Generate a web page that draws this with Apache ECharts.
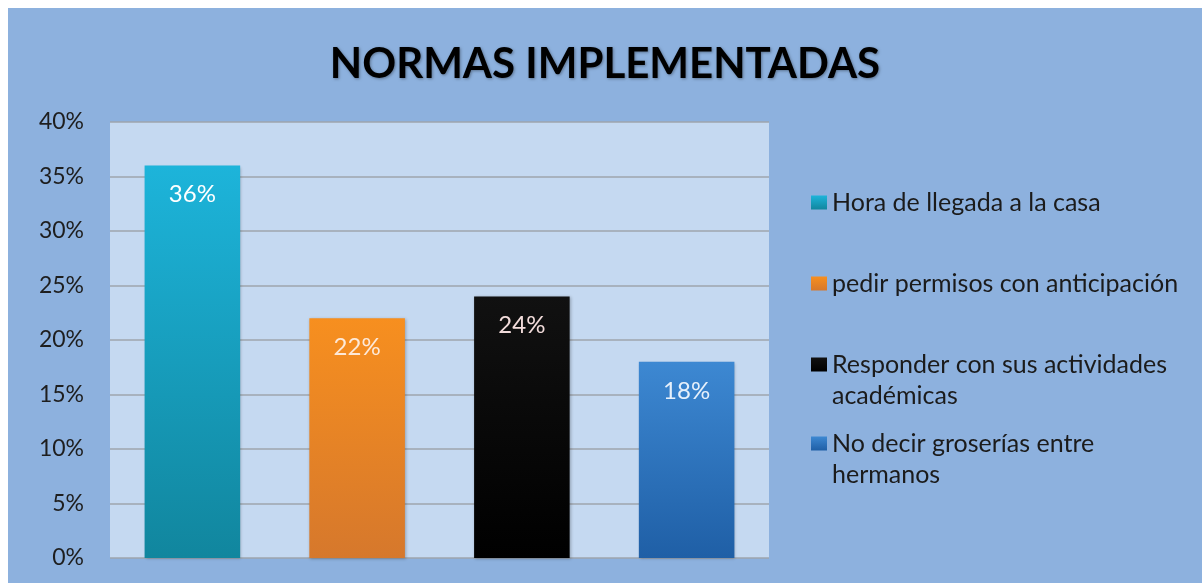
<!DOCTYPE html>
<html>
<head>
<meta charset="utf-8">
<title>NORMAS IMPLEMENTADAS</title>
<script src="https://cdn.jsdelivr.net/npm/echarts@6/dist/echarts.min.js"></script>
<style>
    html, body { margin: 0; padding: 0; background: #ffffff; }
    #container { position: absolute; left: 8px; top: 8px; width: 1194px; height: 575px; }
</style>
</head>
<body>
<div id="container"></div>
<script>
var chartTitle = 'NORMAS IMPLEMENTADAS';
var categories = [
    'Hora de llegada a la casa',
    'pedir permisos con anticipación',
    'Responder con sus actividades académicas',
    'No decir groserías entre hermanos'
];
// texto de la leyenda tal como aparece partido en el original
var legendLines = [
    ['Hora de llegada a la casa'],
    ['pedir permisos con anticipación'],
    ['Responder con sus actividades', 'académicas'],
    ['No decir groserías entre', 'hermanos']
];
var values = [36, 22, 24, 18];
var yTicks = [0, 5, 10, 15, 20, 25, 30, 35, 40];

var FONT = 'Lato, "Open Sans", sans-serif';

var barColors = [
    ['#1db4da', '#11869e'],
    ['#f78f1f', '#d6782c'],
    ['#111111', '#000000'],
    ['#3d88d2', '#1f5fa6']
];
var labelColors = ['#ffffff', '#fde9d9', '#f2dcdb', '#e6f0fb'];
var legendTops = [174, 255, 305, 384];
var LINE_H = 31;

var charts;

function getECharts() {
    if (charts != undefined) {
        return charts;
    }
    var container = document.getElementById('container');
    charts = echarts.init(container, null, { renderer: 'canvas' });
    return charts;
}

function gradient(c) {
    return new echarts.graphic.LinearGradient(0, 0, 0, 1, [
        { offset: 0, color: c[0] },
        { offset: 1, color: c[1] }
    ]);
}

/*
 * una serie por categoria, apiladas para que cada barra quede centrada
 */
function buildSeries() {
    var series = [];
    for (var i = 0; i < categories.length; i++) {
        var data = [];
        for (var j = 0; j < categories.length; j++) {
            data.push(i == j ? values[i] : '-');
        }
        series.push({
            name: categories[i],
            type: 'bar',
            stack: 'normas',
            barWidth: '58%',
            data: data,
            itemStyle: {
                color: gradient(barColors[i]),
                shadowColor: 'rgba(0,0,0,0.25)',
                shadowBlur: 3,
                shadowOffsetX: 1,
                shadowOffsetY: 1
            },
            label: {
                show: true,
                position: 'insideTop',
                distance: 17,
                formatter: '{c}%',
                color: labelColors[i],
                fontFamily: FONT,
                fontSize: 24
            }
        });
    }
    return series;
}

/*
 * texto de la leyenda: en las de dos lineas se agrega una linea vacia arriba
 * para que el cuadro quede a la altura de la primera linea
 */
function legendText(idx) {
    var lines = legendLines[idx];
    if (lines.length > 1) {
        return ' \n' + lines.join('\n');
    }
    return lines[0];
}

function buildLegends() {
    var legends = [];
    for (var i = 0; i < categories.length; i++) {
        legends.push({
            data: [categories[i]],
            left: 798,
            top: legendTops[i],
            orient: 'vertical',
            icon: 'rect',
            itemWidth: 16,
            itemHeight: 14,
            itemGap: 0,
            selectedMode: false,
            formatter: (function (idx) {
                return function () { return legendText(idx); };
            })(i),
            textStyle: {
                color: '#1b1b1b',
                fontFamily: FONT,
                fontSize: 25,
                lineHeight: LINE_H
            }
        });
    }
    return legends;
}

function setOption() {
    var option = {
        backgroundColor: '#8db1de',
        title: {
            text: chartTitle,
            left: 'center',
            top: 30,
            textStyle: {
                color: '#000000',
                fontFamily: FONT,
                fontWeight: 'bold',
                fontSize: 42,
                textShadowColor: 'rgba(0,0,0,0.35)',
                textShadowBlur: 3,
                textShadowOffsetX: 1,
                textShadowOffsetY: 1
            }
        },
        legend: buildLegends(),
        grid: {
            left: 102,
            top: 114,
            right: 433,
            bottom: 25,
            show: true,
            backgroundColor: '#c5d9f1',
            borderWidth: 0
        },
        xAxis: {
            type: 'category',
            data: categories,
            axisLine: { show: false },
            axisTick: { show: false },
            axisLabel: { show: false }
        },
        yAxis: {
            type: 'value',
            min: yTicks[0],
            max: yTicks[yTicks.length - 1],
            interval: yTicks[1] - yTicks[0],
            axisLine: { show: false },
            axisTick: { show: false },
            axisLabel: {
                formatter: '{value}%',
                color: '#1e1e1e',
                fontFamily: FONT,
                fontSize: 23,
                margin: 26
            },
            splitLine: {
                lineStyle: { color: '#9ea4ad', width: 1.5 }
            }
        },
        series: buildSeries()
    };
    getECharts().setOption(option, true);
}

setOption();
</script>
</body>
</html>
